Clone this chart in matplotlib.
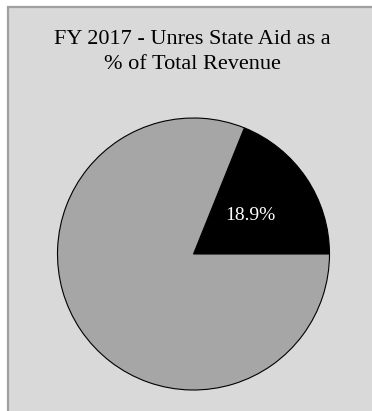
import matplotlib.pyplot as plt
from matplotlib.patches import Rectangle

title = 'FY 2017 - Unres State Aid as a\n% of Total Revenue'
labels = ['Unres State Aid', 'Other Revenue']
shares = [18.9, 81.1]
colors = ['#000000', '#a6a6a6']

W, H = 372, 411
fig = plt.figure(figsize=(W / 100, H / 100), dpi=100)
fig.patch.set_facecolor('white')

# chart area box with gray border
fig.add_artist(Rectangle((8 / W, -0.01), 1.0, 1 - 7 / H + 0.01,
                         transform=fig.transFigure, facecolor='#d9d9d9',
                         edgecolor='#a0a0a0', linewidth=1.6, zorder=-1))

fig.text(192 / W, 1 - 52 / H, title, ha='center', va='center',
         fontsize=16, family='Liberation Serif', linespacing=1.48)

# pie box: circle center (193.5, 254), radius 136 px
ax = fig.add_axes([57.5 / W, (H - 390) / H, 272 / W, 272 / H])
ax.set_facecolor('none')


def pct_label(p):
    return f'{p:.1f}%' if p < 50 else ''


wedges, texts, autotexts = ax.pie(shares, colors=colors, startangle=0,
                                  autopct=pct_label, pctdistance=0.5,
                                  wedgeprops=dict(edgecolor='black', linewidth=0.8))
for t in autotexts:
    t.set_color('white')
    t.set_fontsize(14)
    t.set_family('Liberation Serif')
ax.set_xlim(-1.0, 1.0)
ax.set_ylim(-1.0, 1.0)
ax.set_aspect('auto')
ax.axis('off')

fig.savefig('out.png', dpi=100)
